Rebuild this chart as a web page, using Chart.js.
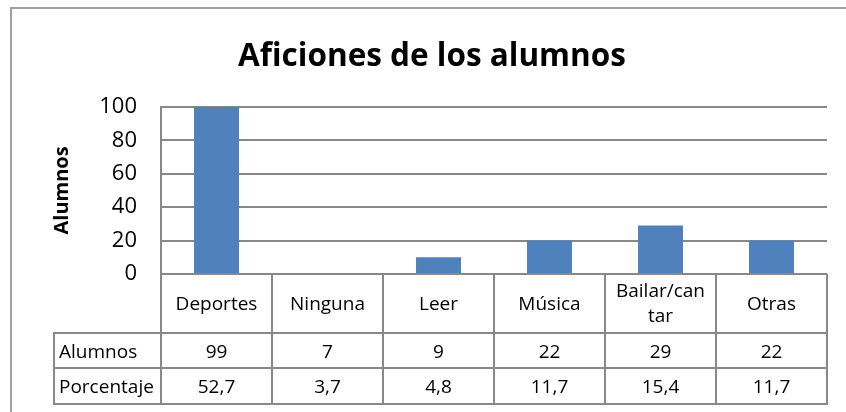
<!DOCTYPE html>
<html>
<head>
<meta charset="utf-8">
<title>Aficiones de los alumnos</title>
<script src="https://cdn.jsdelivr.net/npm/chart.js@4.4.0/dist/chart.umd.min.js"></script>
<style>
  html, body { margin: 0; padding: 0; background: #fff; }
</style>
</head>
<body>
<canvas id="my-chart" width="846" height="412"></canvas>
<script>
'use strict';

// ********** DATA **********
let categories = ['Deportes', 'Ninguna', 'Leer', 'Música', ['Bailar/can', 'tar'], 'Otras'];
let barValues = [100, 0, 10, 20, 29, 20];
let alumnosRow = ['99', '7', '9', '22', '29', '22'];
let porcentajeRow = ['52,7', '3,7', '4,8', '11,7', '15,4', '11,7'];
let rowLabels = ['Alumnos', 'Porcentaje'];
let yTicks = [0, 20, 40, 60, 80, 100];

// ********** STYLE **********
let fontName = '"Open Sans", sans-serif';
let lineGray = '#888888';
let barBlue = '#4f81bd';

let ctx = document.getElementById('my-chart');

// frame round the whole chart
let framePlugin = {
  id: 'frame',
  beforeDraw(chart) {
    let c = chart.ctx;
    c.save();
    c.fillStyle = '#ffffff';
    c.fillRect(0, 0, chart.width, chart.height);
    c.strokeStyle = '#a0a0a0';
    c.lineWidth = 2;
    c.strokeRect(11, 8, chart.width + 20, chart.height + 20);
    c.restore();
  }
};

// data table under the plot, columns taken from the x scale
let tablePlugin = {
  id: 'dataTable',
  afterDraw(chart) {
    let c = chart.ctx;
    let x = chart.scales.x;
    let area = chart.chartArea;
    let half = (x.getPixelForValue(1) - x.getPixelForValue(0)) / 2;
    let headTop = area.bottom;
    let headBottom = headTop + 59;
    let rowTops = [headBottom, headBottom + 35];
    let rowBottoms = [headBottom + 35, headBottom + 71];
    let labelLeft = 54;
    let rightEdge = x.getPixelForValue(categories.length - 1) + half;

    c.save();
    c.strokeStyle = lineGray;
    c.lineWidth = 2;
    c.beginPath();
    for (let i = 0; i <= categories.length; i++) {
      let px = Math.round(x.getPixelForValue(i) - half);
      c.moveTo(px, headTop);
      c.lineTo(px, rowBottoms[1] + 1);
    }
    c.moveTo(labelLeft, headBottom);
    c.lineTo(labelLeft, rowBottoms[1] + 1);
    let hLines = [headBottom, rowBottoms[0], rowBottoms[1]];
    for (let i = 0; i < hLines.length; i++) {
      c.moveTo(labelLeft - 1, hLines[i]);
      c.lineTo(Math.round(rightEdge) + 1, hLines[i]);
    }
    c.stroke();

    c.fillStyle = '#000000';
    c.font = '19px ' + fontName;
    c.textBaseline = 'middle';
    c.textAlign = 'center';
    let headMid = (headTop + headBottom) / 2 + 1;
    for (let i = 0; i < categories.length; i++) {
      let cx = x.getPixelForValue(i);
      let lines = Array.isArray(categories[i]) ? categories[i] : [categories[i]];
      let start = headMid - (lines.length - 1) * 12.5;
      for (let j = 0; j < lines.length; j++) {
        c.fillText(lines[j], cx, start + j * 25);
      }
      c.fillText(alumnosRow[i], cx, (rowTops[0] + rowBottoms[0]) / 2 + 2);
      c.fillText(porcentajeRow[i], cx, (rowTops[1] + rowBottoms[1]) / 2 + 2);
    }
    c.textAlign = 'left';
    for (let r = 0; r < rowLabels.length; r++) {
      c.fillText(rowLabels[r], labelLeft + 5, (rowTops[r] + rowBottoms[r]) / 2 + 2);
    }
    c.restore();
  }
};

let chartObj = {
  type: 'bar',
  data: {
    labels: categories,
    datasets: [{
      label: 'Alumnos',
      data: barValues,
      backgroundColor: barBlue,
      borderWidth: 0,
      categoryPercentage: 1,
      barPercentage: 0.405
    }]
  },
  options: {
    responsive: false,
    animation: false,
    layout: {
      padding: { top: 8, left: 37, right: 19, bottom: 138 }
    },
    plugins: {
      legend: { display: false },
      tooltip: { enabled: false },
      title: {
        display: true,
        text: 'Aficiones de los alumnos',
        color: '#000000',
        font: { family: fontName, size: 31.5, weight: 'bold' },
        padding: { top: 30, bottom: 31 }
      }
    },
    scales: {
      x: {
        display: false
      },
      y: {
        min: yTicks[0],
        max: yTicks[yTicks.length - 1],
        afterFit(scale) {
          scale.width = 124;
        },
        afterBuildTicks(scale) {
          scale.ticks = yTicks.map(v => ({ value: v }));
        },
        ticks: {
          color: '#000000',
          padding: 24,
          font: { family: fontName, size: 22 }
        },
        grid: {
          color: lineGray,
          lineWidth: 2,
          drawTicks: false
        },
        border: {
          display: true,
          color: lineGray,
          width: 2
        },
        title: {
          display: true,
          text: 'Alumnos',
          color: '#000000',
          font: { family: fontName, size: 20, weight: 'bold' },
          padding: { top: 13, bottom: 0 }
        }
      }
    }
  },
  plugins: [framePlugin, tablePlugin]
};

new Chart(ctx, chartObj); //eslint-disable-line
</script>
</body>
</html>
